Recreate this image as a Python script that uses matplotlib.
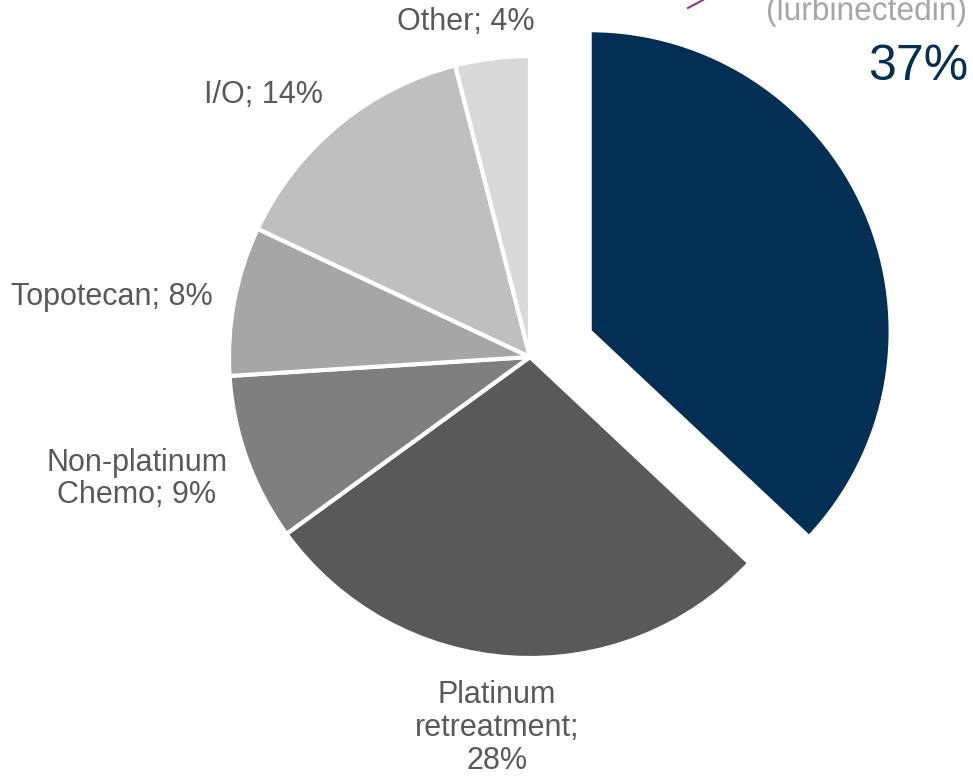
import matplotlib
matplotlib.use("Agg")
import matplotlib.pyplot as plt
from matplotlib.textpath import TextPath
from matplotlib.patches import PathPatch
from matplotlib.font_manager import FontProperties
from matplotlib.transforms import Affine2D

# share of 2L SCLC treatment
labels = ["Zepzelca", "Platinum\nretreatment;\n28%", "Non-platinum\nChemo; 9%",
          "Topotecan; 8%", "I/O; 14%", "Other; 4%"]
shares = [37, 28, 9, 8, 14, 4]
colors = ["#022F53", "#595959", "#7F7F7F", "#A6A6A6", "#BFBFBF", "#D9D9D9"]
explode = [65, 0, 0, 0, 0, 0]  # in pixels, pie doesn't scale explode by radius

W, H = 973, 779
fig = plt.figure(figsize=(W / 100, H / 100), dpi=100)
ax = fig.add_axes([0, 0, 1, 1])

ax.pie(shares, colors=colors, explode=explode, startangle=-90, counterclock=True,
       center=(530, 357), radius=301, frame=True,
       wedgeprops=dict(edgecolor="white", linewidth=3))
ax.set_xlim(0, W)
ax.set_ylim(H, 0)
ax.set_aspect("equal")
ax.axis("off")

font = "Liberation Sans"
grey = "#595959"
kw = dict(ha="center", va="center", fontsize=22, color=grey, family=font)
ax.text(466, 22, labels[5], **kw)
ax.text(264, 95, labels[4], **kw)
ax.text(112, 297, labels[3], **kw)
ax.text(137, 479, labels[2], linespacing=1.12, **kw)
ax.text(497, 728, labels[1], linespacing=1.13, **kw)

ax.text(918, 67, "37%", ha="center", va="center", fontsize=36, color="#022F53", family=font)

# condensed grey subtitle, cut off by the top edge
tp = TextPath((0, 0), "(lurbinectedin)", size=33, prop=FontProperties(family=font))
ext = tp.get_extents()
sx = 197 / ext.width
tr = Affine2D().translate(-ext.x0, 0).scale(sx, -1).translate(768, 20)
ax.add_patch(PathPatch(tr.transform_path(tp), facecolor="#A6A6A6", edgecolor="none"))
ax.plot([688, 703], [8, 0], color="#A0306A", lw=1.5)

fig.savefig("out.png", dpi=100)
